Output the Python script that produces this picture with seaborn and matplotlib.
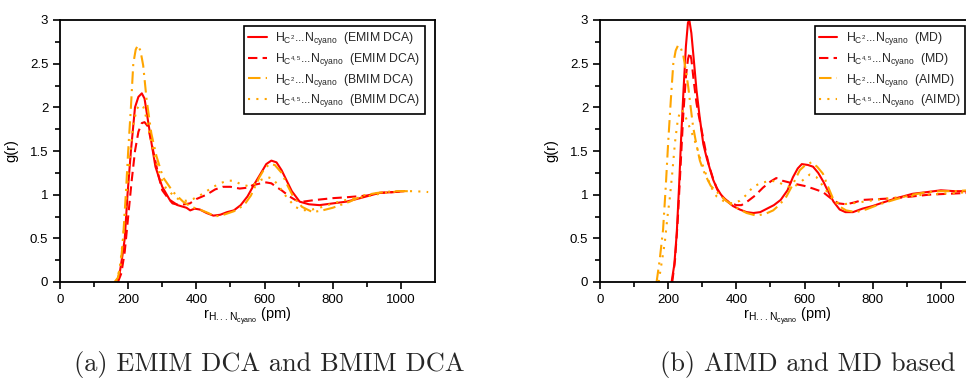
import numpy as np
import pandas as pd
import matplotlib
matplotlib.use("Agg")
import matplotlib.pyplot as plt
import seaborn as sns

# ---- (a) EMIM DCA und BMIM DCA ----
emim_c2_r = [166, 175, 183, 190, 198, 208, 220, 230, 240, 248, 258, 268, 280, 290, 300, 322,
             345, 371, 382, 395, 410, 430, 450, 470, 490, 510, 530, 550, 570, 590, 605, 620,
             635, 650, 665, 680, 703, 730, 761, 800, 840, 880, 937, 980, 1010]
emim_c2_g = [0.0, 0.1, 0.3, 0.5, 1.0, 1.5, 2.0, 2.12, 2.16, 2.1, 1.85, 1.6, 1.32, 1.2, 1.09, 0.94,
             0.88, 0.85, 0.82, 0.84, 0.83, 0.79, 0.76, 0.77, 0.8, 0.82, 0.88, 0.98, 1.12, 1.25, 1.35, 1.39,
             1.37, 1.28, 1.16, 1.04, 0.92, 0.89, 0.88, 0.9, 0.92, 0.96, 1.02, 1.03, 1.04]

emim_c45_r = [170, 180, 190, 200, 210, 220, 230, 240, 248, 258, 268, 280, 290, 300, 315, 330,
              350, 381, 400, 430, 455, 478, 500, 527, 550, 566, 590, 605, 620, 634, 650, 673,
              690, 712, 751, 800, 840, 900, 937, 980, 1010]
emim_c45_g = [0.0, 0.1, 0.35, 0.75, 1.15, 1.5, 1.72, 1.82, 1.83, 1.78, 1.6, 1.38, 1.2, 1.05, 0.97, 0.9,
              0.88, 0.9, 0.95, 1.0, 1.06, 1.09, 1.09, 1.07, 1.08, 1.11, 1.13, 1.14, 1.13, 1.09, 1.05, 0.98,
              0.94, 0.92, 0.94, 0.96, 0.97, 0.99, 1.02, 1.03, 1.04]

bmim_c2_r = [160, 170, 178, 185, 193, 200, 208, 215, 222, 228, 236, 244, 254, 268, 283, 302,
             332, 361, 385, 410, 435, 455, 480, 510, 540, 560, 585, 600, 615, 630, 650, 668,
             685, 710, 741, 770, 800, 850, 888, 930, 980, 1025]
bmim_c2_g = [0.0, 0.05, 0.2, 0.5, 1.0, 1.5, 2.0, 2.5, 2.66, 2.71, 2.65, 2.48, 2.09, 1.7, 1.44, 1.2,
             1.03, 0.92, 0.86, 0.83, 0.79, 0.75, 0.77, 0.81, 0.88, 0.99, 1.2, 1.3, 1.35, 1.34, 1.25, 1.1,
             0.97, 0.86, 0.8, 0.82, 0.85, 0.92, 0.99, 1.02, 1.04, 1.04]

bmim_c45_r = [165, 175, 185, 195, 205, 215, 225, 235, 245, 255, 265, 280, 295, 310, 330, 350,
              370, 390, 410, 430, 450, 470, 490, 510, 530, 550, 570, 590, 610, 625, 645, 665,
              690, 712, 740, 770, 800, 850, 900, 950, 1000, 1040, 1080]
bmim_c45_g = [0.0, 0.15, 0.5, 1.0, 1.45, 1.8, 1.98, 2.03, 2.0, 1.85, 1.65, 1.4, 1.2, 1.08, 1.0, 0.94,
              0.93, 0.95, 0.99, 1.04, 1.09, 1.13, 1.16, 1.16, 1.12, 1.1, 1.12, 1.17, 1.2, 1.18, 1.08, 0.97,
              0.86, 0.82, 0.83, 0.86, 0.9, 0.95, 0.98, 1.02, 1.04, 1.04, 1.03]

# ---- (b) AIMD und MD ----
md_c2_r = [210, 218, 225, 232, 238, 245, 252, 258, 262, 268, 275, 283, 292, 303, 313, 322,
           332, 342, 355, 371, 390, 410, 430, 450, 470, 490, 510, 530, 550, 566, 580, 592,
           610, 625, 640, 655, 670, 685, 703, 720, 742, 770, 800, 830, 870, 917, 960, 1000,
           1040, 1080]
md_c2_g = [0.0, 0.2, 0.55, 1.1, 1.65, 2.2, 2.7, 2.97, 3.0, 2.85, 2.55, 2.2, 1.9, 1.58, 1.42, 1.3,
           1.17, 1.08, 1.0, 0.93, 0.87, 0.83, 0.8, 0.79, 0.8, 0.84, 0.88, 0.94, 1.05, 1.2, 1.3, 1.35,
           1.34, 1.32, 1.25, 1.15, 1.03, 0.92, 0.83, 0.8, 0.8, 0.84, 0.87, 0.91, 0.96, 1.01, 1.03, 1.05,
           1.04, 1.04]

md_c45_r = [212, 220, 228, 236, 244, 252, 258, 263, 268, 275, 283, 290, 300, 310, 320, 332,
            345, 360, 380, 400, 415, 435, 455, 478, 500, 517, 535, 555, 576, 600, 625, 654,
            670, 683, 700, 722, 745, 771, 820, 868, 917, 966, 1020, 1080]
md_c45_g = [0.0, 0.25, 0.7, 1.3, 1.9, 2.35, 2.55, 2.63, 2.55, 2.3, 2.05, 1.9, 1.7, 1.5, 1.33, 1.18,
            1.05, 0.97, 0.91, 0.88, 0.88, 0.93, 0.99, 1.08, 1.15, 1.19, 1.16, 1.14, 1.12, 1.1, 1.07, 1.03,
            0.98, 0.94, 0.9, 0.89, 0.91, 0.94, 0.95, 0.96, 0.98, 1.0, 1.01, 1.02]

aimd_c2_r = [166, 175, 185, 193, 200, 208, 215, 222, 229, 237, 244, 252, 259, 266, 273, 283,
             293, 303, 312, 325, 338, 351, 370, 400, 430, 459, 485, 508, 528, 547, 566, 586,
             600, 620, 637, 654, 668, 683, 700, 722, 751, 780, 820, 870, 917, 960, 1000, 1040,
             1080]
aimd_c2_g = [0.0, 0.25, 0.6, 1.1, 1.6, 2.1, 2.5, 2.65, 2.71, 2.68, 2.6, 2.42, 2.23, 2.0, 1.78, 1.57,
             1.39, 1.28, 1.2, 1.1, 1.05, 1.0, 0.93, 0.85, 0.79, 0.76, 0.78, 0.82, 0.89, 0.98, 1.12, 1.28,
             1.33, 1.37, 1.32, 1.24, 1.1, 0.96, 0.87, 0.82, 0.8, 0.83, 0.89, 0.95, 1.0, 1.03, 1.04, 1.04,
             1.05]

aimd_c45_r = [172, 180, 190, 198, 205, 212, 220, 228, 236, 245, 255, 265, 275, 283, 295, 305,
              312, 327, 342, 365, 390, 410, 430, 449, 470, 498, 520, 545, 566, 590, 615, 635,
              654, 672, 690, 710, 740, 790, 850, 900, 950, 1000, 1050, 1080]
aimd_c45_g = [0.0, 0.2, 0.45, 0.75, 0.97, 1.25, 1.6, 1.85, 1.97, 1.95, 1.85, 1.75, 1.65, 1.56, 1.4, 1.3,
              1.22, 1.08, 0.98, 0.92, 0.9, 0.93, 1.0, 1.09, 1.13, 1.16, 1.15, 1.1, 1.08, 1.15, 1.23, 1.2,
              1.1, 1.0, 0.92, 0.89, 0.9, 0.93, 0.96, 0.98, 1.0, 1.01, 1.02, 1.03]

lbl_c2 = r"H$_{\mathrm{C}^{2}}$...N$_{\mathrm{cyano}}$"
lbl_c45 = r"H$_{\mathrm{C}^{4,5}}$...N$_{\mathrm{cyano}}$"

RED = "#ff0000"
ORANGE = "#ffa500"
SOLID = "-"
DASHED = (0, (4.5, 2.5))
DASHDOT = (0, (6, 2.5, 1, 2.5))
DOTTED = (0, (1, 3))

sns.set_theme(style="ticks")
plt.rcParams["font.family"] = ["Liberation Sans", "DejaVu Sans"]
plt.rcParams["mathtext.fontset"] = "custom"
plt.rcParams["mathtext.rm"] = "Liberation Sans"
plt.rcParams["mathtext.it"] = "Liberation Sans:italic"
plt.rcParams["mathtext.bf"] = "Liberation Sans:bold"
plt.rcParams["mathtext.sf"] = "Liberation Sans"


def style_axes(ax):
    ax.set_xlim(0, 1100)
    ax.set_ylim(0, 3)
    ax.set_xticks(np.arange(0, 1001, 200))
    ax.set_xticks(np.arange(100, 1100, 200), minor=True)
    ax.set_yticks([0, 0.5, 1, 1.5, 2, 2.5, 3])
    ax.set_yticklabels(["0", "0.5", "1", "1.5", "2", "2.5", "3"])
    ax.set_yticks(np.arange(0.25, 3, 0.5), minor=True)
    ax.tick_params(which="both", direction="out", colors="black", width=1.2,
                   labelsize=9.5, top=False, right=False)
    ax.tick_params(which="major", length=5)
    ax.tick_params(which="minor", length=3.5)
    for s in ax.spines.values():
        s.set_visible(True)
        s.set_color("black")
        s.set_linewidth(1.3)
    ax.set_ylabel("g(r)", fontsize=10.5, color="black", labelpad=8)
    ax.set_xlabel(r"r$_{\mathrm{H...N}_{\mathrm{cyano}}}$ (pm)", fontsize=10.5,
                  color="black", labelpad=0)


def draw(ax, series):
    for r, g, col, ls, lab in series:
        sns.lineplot(x=r, y=g, ax=ax, color=col, linestyle=ls, linewidth=1.5, label=lab)
    style_axes(ax)
    leg = ax.legend(loc="upper right", bbox_to_anchor=(0.972, 0.977), fontsize=8.8,
                    frameon=True, fancybox=False, framealpha=1, edgecolor="black",
                    handlelength=1.5, handletextpad=0.7, labelspacing=0.3,
                    borderpad=0.35, borderaxespad=0)
    leg.get_frame().set_linewidth(1.2)


fig = plt.figure(figsize=(9.66, 3.81), dpi=100)
ax1 = fig.add_axes([60 / 966, 99 / 381, 375 / 966, 262 / 381])
ax2 = fig.add_axes([600 / 966, 99 / 381, 375 / 966, 262 / 381])

draw(ax1, [
    (emim_c2_r, emim_c2_g, RED, SOLID, lbl_c2 + "  (EMIM DCA)"),
    (emim_c45_r, emim_c45_g, RED, DASHED, lbl_c45 + "  (EMIM DCA)"),
    (bmim_c2_r, bmim_c2_g, ORANGE, DASHDOT, lbl_c2 + "  (BMIM DCA)"),
    (bmim_c45_r, bmim_c45_g, ORANGE, DOTTED, lbl_c45 + "  (BMIM DCA)"),
])
draw(ax2, [
    (md_c2_r, md_c2_g, RED, SOLID, lbl_c2 + "  (MD)"),
    (md_c45_r, md_c45_g, RED, DASHED, lbl_c45 + "  (MD)"),
    (aimd_c2_r, aimd_c2_g, ORANGE, DASHDOT, lbl_c2 + "  (AIMD)"),
    (aimd_c45_r, aimd_c45_g, ORANGE, DOTTED, lbl_c45 + "  (AIMD)"),
])

fig.text(269 / 966, 17 / 381, "(a) EMIM DCA and BMIM DCA", family="cmr10",
         fontsize=19, ha="center", va="center")
fig.text(808 / 966, 17 / 381, "(b) AIMD and MD based", family="cmr10",
         fontsize=19, ha="center", va="center")

fig.savefig("out.png", dpi=100)
plt.close(fig)
